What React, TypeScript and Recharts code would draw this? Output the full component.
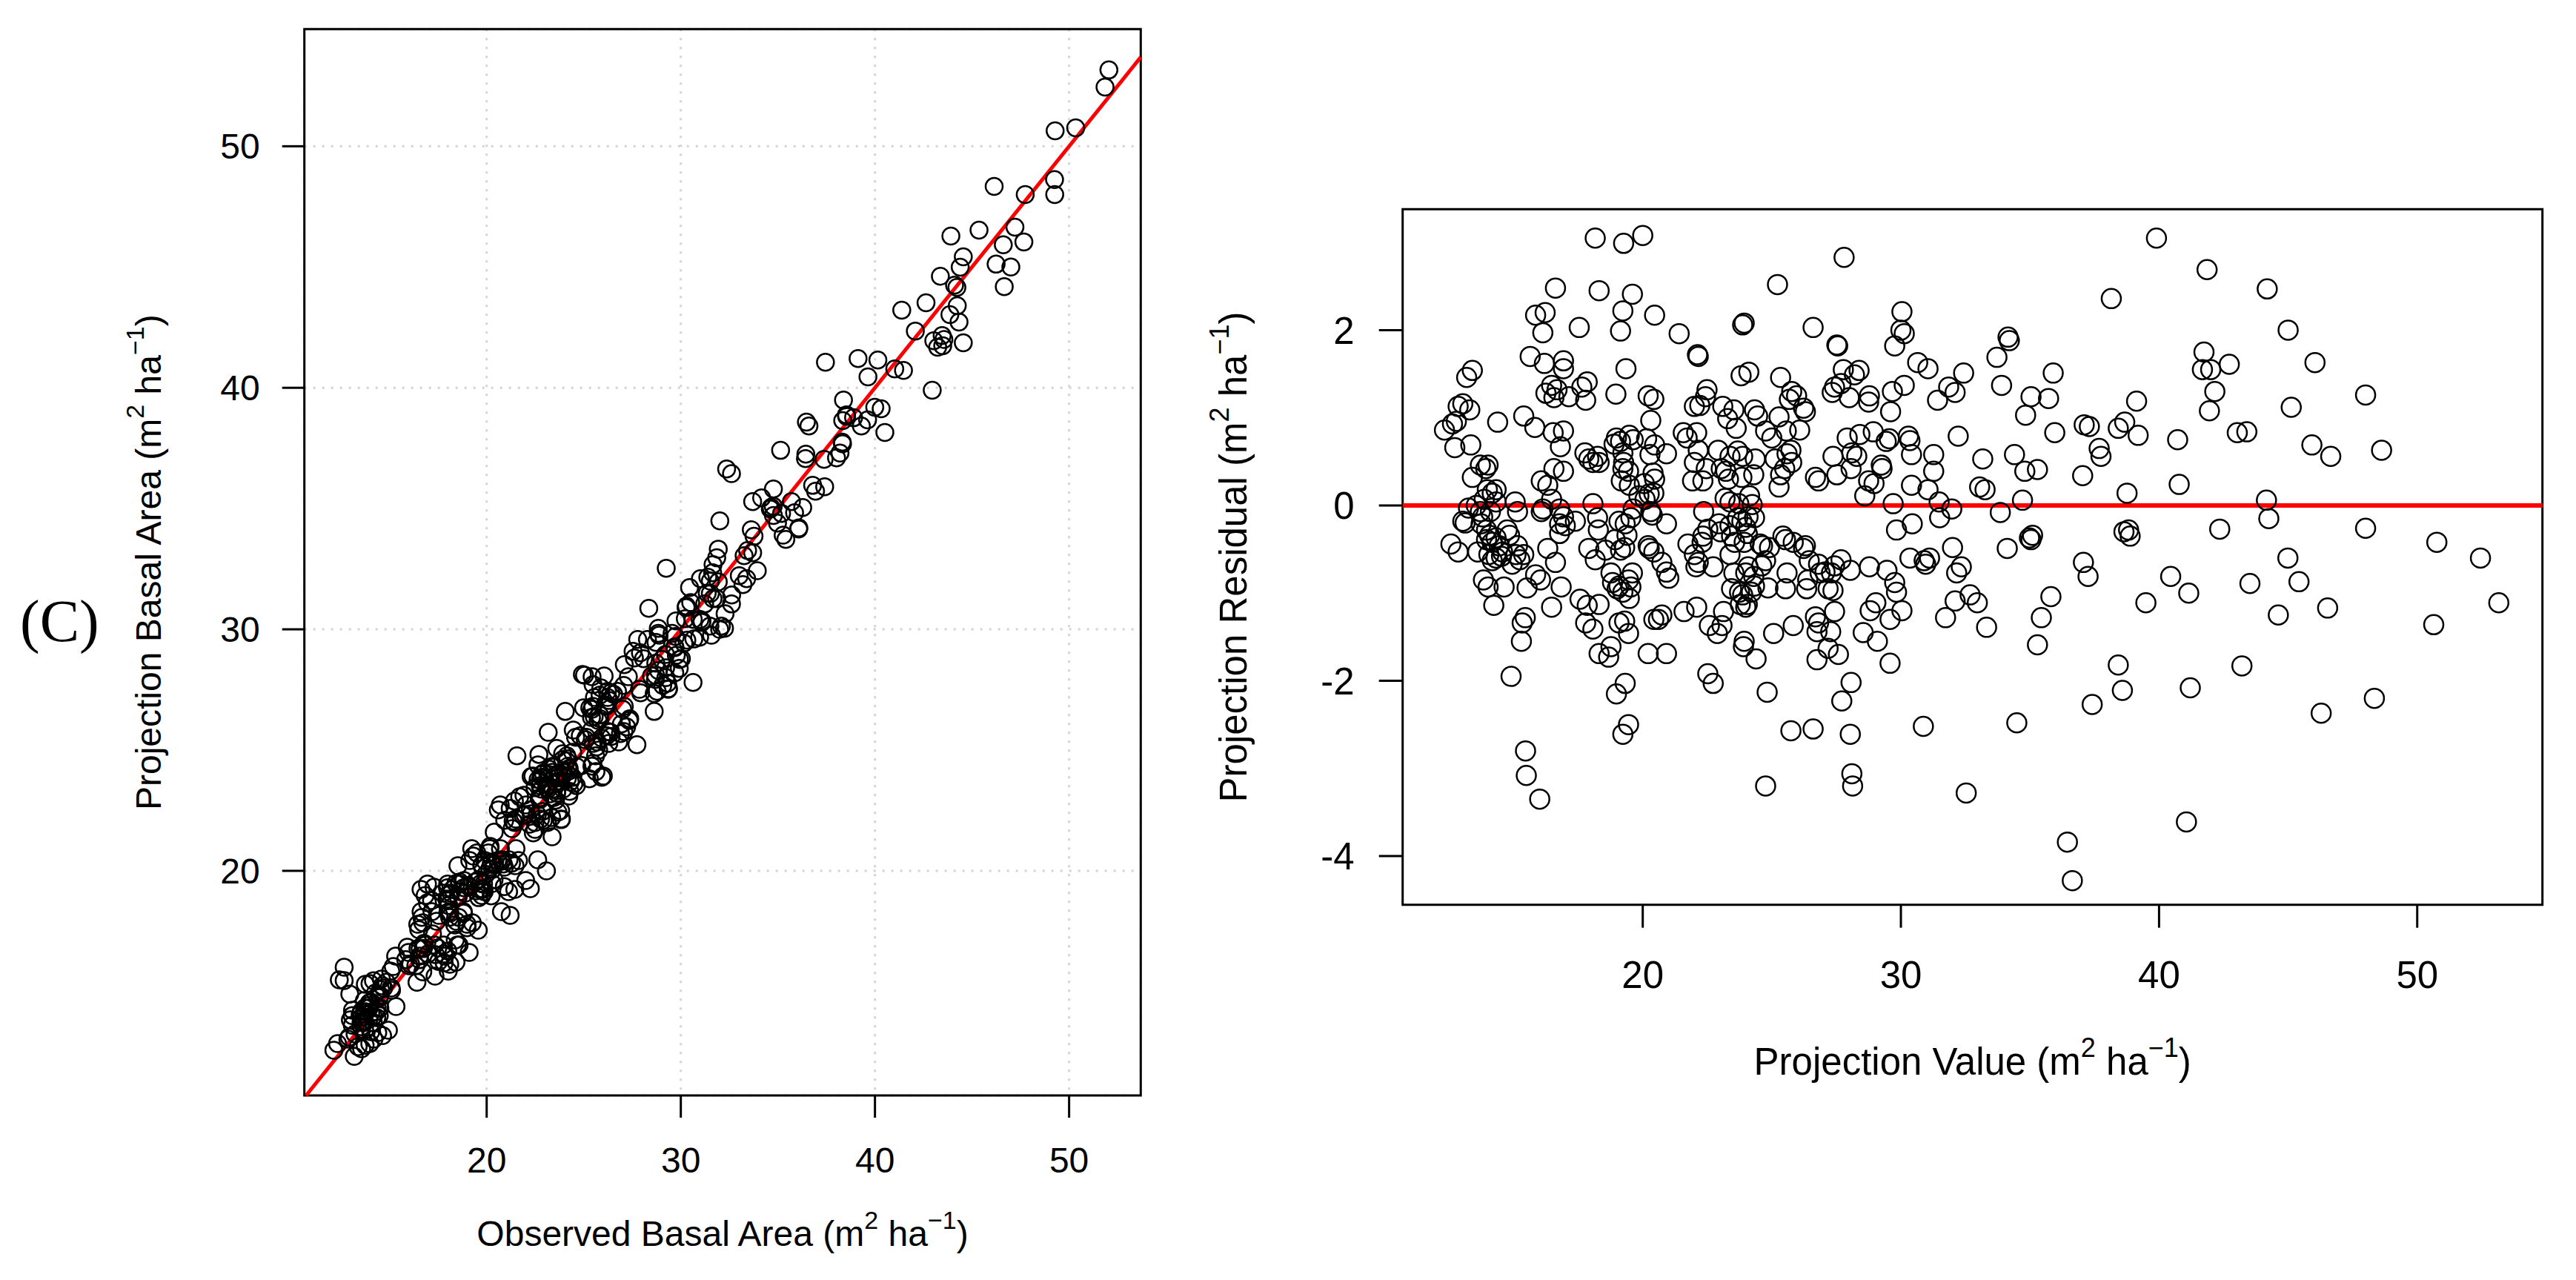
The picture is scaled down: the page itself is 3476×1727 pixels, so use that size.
import React from "react";
import {
  ScatterChart, Scatter, XAxis, YAxis, CartesianGrid,
  ReferenceLine, ReferenceArea,
} from "recharts";

const FONT = "'Liberation Sans', Arial, Helvetica, sans-serif";

// [projection value, residual].
// residual = observed - projection, so the left panel uses the same plots.
const HIGH_RESID: [number, number][] = [
  [18.16,3.05],[19.26,2.99],[20.0,3.08],[39.9,3.05],[27.8,2.83],[41.86,2.69],[25.22,2.52],[16.62,2.48],
  [18.31,2.45],[19.6,2.41],[44.19,2.47],[38.15,2.36],[15.85,2.17],[16.22,2.2],[19.23,2.22],[20.46,2.17],
  [30.04,2.21],[16.13,1.97],[17.54,2.03],[19.14,1.99],[21.41,1.96],[23.87,2.06],[23.93,2.08],[26.6,2.03],
  [30.0,2.0],[30.13,1.96],[45.0,2.0],[34.15,1.92],[34.2,1.88],[22.12,1.72],[22.15,1.7],[27.52,1.83],
  [27.55,1.82],[29.76,1.82],[41.74,1.75],[15.64,1.7],[16.93,1.65],[16.19,1.62],[16.93,1.56],[19.35,1.56],
  [30.65,1.63],[31.05,1.56],[33.72,1.69],[42.72,1.61],[46.04,1.63],[41.68,1.55],[42.0,1.55],[27.77,1.55],
  [28.38,1.54],[28.2,1.49],[32.43,1.51],[35.9,1.51],[13.4,1.54],[25.34,1.46],[23.81,1.48],[24.11,1.52],
];

const UPPER_RESID: [number, number][] = [
  [13.18,1.46],[16.47,1.37],[16.68,1.32],[17.85,1.41],[17.64,1.35],[17.79,1.2],[17.14,1.24],[16.56,1.23],
  [16.25,1.28],[18.96,1.27],[20.21,1.25],[20.43,1.21],[22.49,1.32],[22.43,1.24],[23.1,1.13],[22.0,1.13],
  [22.21,1.14],[27.34,1.29],[27.68,1.39],[27.43,1.35],[28.0,1.23],[28.78,1.25],[28.75,1.18],[29.67,1.3],
  [30.13,1.37],[25.77,1.3],[25.68,1.21],[25.96,1.25],[26.23,1.11],[26.3,1.07],[31.85,1.35],[32.1,1.29],
  [31.42,1.2],[33.9,1.37],[35.04,1.24],[35.72,1.22],[39.13,1.19],[45.12,1.12],[48.0,1.26],[42.16,1.3],
  [41.95,1.08],[12.85,1.13],[13.03,1.16],[13.3,1.09],[23.53,1.09],[24.33,1.09],[24.45,1.02],[23.29,0.99],
  [25.28,1.01],[15.39,1.02],[20.31,0.97],[29.6,1.07],[34.83,1.03],[37.1,0.92],[37.3,0.9],[38.67,0.95],
  [38.42,0.88],[14.38,0.95],[12.32,0.86],[12.63,0.93],[12.78,0.96],[15.82,0.89],[16.93,0.85],[16.53,0.83],
  [21.57,0.83],[21.72,0.77],[22.09,0.83],[23.62,0.88],[24.76,0.85],[25.0,0.77],[25.56,0.85],[26.08,0.86],
  [27.92,0.77],[28.41,0.81],[28.93,0.84],[29.43,0.73],[29.55,0.76],[30.29,0.79],[30.35,0.74],[32.22,0.79],
  [35.96,0.83],[39.19,0.8],[40.72,0.75],[43.03,0.83],[43.4,0.84],[13.34,0.69],[12.72,0.66],[16.81,0.67],
  [18.89,0.7],[18.98,0.77],[19.48,0.8],[19.63,0.75],[19.14,0.73],[20.15,0.76],[20.46,0.69],[20.92,0.59],
  [20.28,0.58],[17.76,0.6],[17.91,0.53],[18.25,0.56],[19.23,0.6],[22.15,0.63],[22.92,0.63],[23.38,0.56],
  [23.68,0.62],[23.87,0.56],[24.36,0.53],[25.13,0.53],[25.59,0.59],[25.74,0.63],[27.37,0.56],[28.29,0.56],
  [28.1,0.6],[30.41,0.58],[31.27,0.58],[33.17,0.53],[34.4,0.58],[37.68,0.65],[37.75,0.56],[45.92,0.69],
  [46.65,0.56],[48.62,0.63],
];

const NEAR_ZERO: [number, number][] = [
  [18.07,0.49],[18.31,0.49],[16.56,0.42],[16.93,0.39],[14.01,0.46],[13.92,0.42],[13.71,0.46],[13.4,0.32],
  [16.07,0.28],[19.26,0.49],[19.23,0.42],[19.45,0.39],[19.17,0.28],[19.48,0.23],[20.06,0.25],[20.46,0.3],
  [20.4,0.37],[22.0,0.49],[21.93,0.28],[22.33,0.28],[22.46,0.42],[23.04,0.42],[24.3,0.35],[23.84,0.32],
  [23.22,0.39],[23.32,0.3],[25.77,0.49],[25.5,0.42],[25.34,0.35],[25.28,0.21],[26.69,0.32],[26.81,0.28],
  [27.52,0.35],[28.07,0.42],[29.24,0.46],[29.27,0.42],[28.96,0.25],[28.75,0.28],[28.6,0.11],[31.27,0.39],
  [30.41,0.23],[31.05,0.18],[33.05,0.21],[33.26,0.18],[34.8,0.39],[35.29,0.41],[37.04,0.34],[40.78,0.24],
  [38.76,0.14],[44.16,0.06],[34.71,0.06],
  [12.57,-0.44],[13.12,-0.2],[13.03,-0.18],[13.25,-0.03],[13.55,0.0],[13.71,-0.07],[13.8,-0.13],[13.74,-0.21],
  [13.95,-0.28],[14.07,-0.34],[13.95,-0.39],[14.17,-0.42],[14.32,-0.37],[14.44,-0.46],[14.75,-0.28],[14.84,-0.34],
  [15.06,0.04],[15.15,-0.07],[14.32,0.04],[14.17,0.14],[13.98,0.18],[14.32,0.18],[13.86,0.07],[14.1,-0.07],
  [15.15,-0.46],[16.32,-0.49],[16.78,-0.32],[16.78,-0.21],[16.78,-0.04],[17.0,-0.23],[16.13,-0.04],[16.47,0.07],
  [16.32,0.23],[16.07,-0.07],[16.93,-0.13],[17.39,-0.18],[17.91,-0.49],[18.28,-0.28],[18.25,-0.14],[18.07,0.02],
  [18.93,-0.39],[19.08,-0.18],[19.32,-0.21],[19.39,-0.34],[19.3,-0.48],[19.54,-0.14],[19.63,-0.04],[19.85,0.11],
  [20.09,0.07],[20.25,0.13],[20.43,0.14],[20.31,-0.07],[20.37,-0.11],[20.21,-0.46],[20.25,-0.49],[20.92,-0.21],
  [21.75,-0.44],[22.3,-0.42],[22.33,-0.35],[22.52,-0.27],[22.36,-0.07],[23.01,-0.3],[22.95,-0.21],[23.19,0.08],
  [23.38,0.04],[23.38,-0.23],[23.44,-0.35],[23.56,-0.42],[23.84,-0.18],[23.68,-0.14],[23.99,-0.25],[24.05,-0.32],
  [23.93,-0.42],[24.08,-0.13],[23.72,0.02],[24.14,0.11],[24.24,0.01],[24.33,-0.14],[24.55,-0.44],[24.64,-0.46],
  [24.91,-0.48],[25.43,-0.35],[25.53,-0.39],[25.83,-0.42],[26.3,-0.46],[26.23,-0.49],[29.83,-0.28],[29.7,0.02],
  [30.44,-0.21],[31.5,-0.14],[31.48,0.04],[32.0,-0.48],[31.97,-0.04],[33.85,-0.08],[34.12,-0.49],[34.98,-0.37],
  [35.04,-0.39],[35.1,-0.34],[38.64,-0.3],[38.88,-0.35],[38.82,-0.28],[42.35,-0.27],[44.25,-0.15],[48.0,-0.26],
  [50.76,-0.42],
];

const LOWER_RESID: [number, number][] = [
  [12.85,-0.53],[14.57,-0.53],[14.04,-0.56],[13.61,-0.53],[14.17,-0.63],[14.32,-0.6],[14.53,-0.58],[14.63,-0.93],
  [13.83,-0.85],[14.01,-0.93],[14.23,-1.14],[15.09,-0.56],[15.24,-0.62],[14.94,-0.67],[15.39,-0.56],[15.52,-0.94],
  [15.33,-1.34],[15.45,-1.28],[16.04,-0.85],[15.85,-0.79],[16.47,-1.16],[16.84,-0.93],[16.62,-0.65],[17.57,-1.07],
  [17.85,-1.14],[17.79,-1.34],[18.07,-1.41],[18.31,-1.13],[18.16,-0.62],[18.56,-0.51],[18.77,-0.77],[18.83,-0.88],
  [19.01,-0.95],[19.23,-0.99],[19.08,-0.92],[19.45,-0.85],[19.6,-0.77],[19.54,-0.93],[19.48,-1.06],[19.08,-1.34],
  [19.3,-1.32],[19.45,-1.46],[19.14,-0.51],[20.43,-0.53],[20.74,-0.65],[20.92,-0.76],[21.01,-0.83],[20.43,-1.3],
  [20.61,-1.3],[20.74,-1.25],[21.6,-1.21],[22.09,-1.16],[22.0,-0.56],[22.15,-0.65],[22.06,-0.7],[22.58,-1.37],
  [22.89,-1.46],[23.07,-1.37],[23.13,-1.21],[22.73,-0.7],[23.38,-0.56],[23.53,-0.77],[23.44,-0.95],[23.75,-0.99],
  [23.87,-1.02],[23.78,-1.13],[23.99,-1.16],[24.85,-0.94],[24.76,-0.63],[24.61,-0.69],[24.08,-0.7],[23.99,-0.77],
  [24.3,-0.81],[24.33,-0.92],[24.21,-0.99],[24.05,-1.13],[25.07,-1.46],[25.59,-0.77],[25.53,-0.95],[25.83,-1.37],
  [26.35,-0.95],[26.39,-0.85],[26.45,-0.63],[26.69,-1.27],[26.81,-1.34],[26.75,-1.44],[26.81,-0.67],[26.87,-0.77],
  [27.06,-0.76],[27.18,-0.95],[27.37,-0.97],[27.31,-0.77],[27.43,-0.69],[27.68,-0.62],[27.43,-1.21],[27.28,-1.44],
  [28.04,-0.74],[28.54,-1.45],[28.81,-1.2],[29.03,-1.11],[28.78,-0.7],[29.58,-1.3],[30.04,-1.2],[29.76,-0.88],
  [29.83,-0.99],[29.46,-0.74],[30.35,-0.6],[30.9,-0.63],[30.96,-0.67],[31.11,-0.6],[31.73,-1.28],[32.1,-1.09],
  [32.16,-0.77],[32.34,-0.7],[32.68,-1.02],[32.96,-1.11],[33.32,-1.39],[35.44,-1.28],[35.81,-1.04],[37.07,-0.65],
  [37.25,-0.81],[39.49,-1.11],[40.45,-0.81],[41.15,-1.0],[43.52,-0.89],[44.62,-1.25],[44.99,-0.6],[45.42,-0.87],
  [46.53,-1.17],[50.64,-1.36],[52.45,-0.6],[53.16,-1.11],
];

const LOW_RESID: [number, number][] = [
  [15.3,-1.55],[14.9,-1.95],[18.31,-1.69],[18.68,-1.73],[18.77,-1.61],[18.98,-2.15],[19.32,-2.03],[19.23,-2.61],
  [19.45,-2.5],[20.21,-1.69],[20.92,-1.69],[22.52,-1.92],[22.73,-2.03],[23.93,-1.55],[23.9,-1.61],[24.39,-1.75],
  [24.82,-2.13],[24.76,-3.2],[25.74,-2.57],[26.6,-2.55],[26.75,-1.76],[27.18,-1.63],[27.58,-1.7],[27.71,-2.23],
  [28.07,-2.02],[28.04,-2.61],[28.1,-3.06],[28.13,-3.2],[29.09,-1.55],[29.58,-1.8],[30.87,-2.52],[32.53,-3.28],
  [34.49,-2.48],[35.29,-1.59],[36.45,-3.84],[36.64,-4.28],[37.41,-2.27],[38.42,-1.82],[38.58,-2.11],[41.06,-3.61],
  [41.21,-2.08],[43.21,-1.83],[46.28,-2.37],[48.34,-2.2],[15.46,-2.8],[15.49,-3.08],[16.01,-3.35],
];

const BASAL_TICKS = [20, 30, 40, 50];
const RESID_TICKS = [-4, -2, 0, 2];
const OBS_DOMAIN: [number, number] = [10.61, 53.69];
const PROJ_DOMAIN: [number, number] = [10.7, 54.85];
const RESID_DOMAIN: [number, number] = [-4.555, 3.379];

const ALL = [...HIGH_RESID, ...UPPER_RESID, ...NEAR_ZERO, ...LOWER_RESID, ...LOW_RESID];
const residData = ALL.map(([p, r]) => ({ proj: p, resid: r }));
const basalData = ALL.map(([p, r]) => ({ obs: Math.round((p + r) * 100) / 100, proj: p }));

const ringShape = (r: number) => (props: any) => (
  <circle cx={props.cx} cy={props.cy} r={r} fill="none" stroke="#000" strokeWidth={2.5} />
);

function UnitTitle({ x, y, text, size, vertical }: { x: number; y: number; text: string; size: number; vertical?: boolean }) {
  const sup = Math.round(size * 0.7);
  const lift = Math.round(size * 0.47);
  return (
    <text
      x={x} y={y} textAnchor="middle" fill="#000" fontFamily={FONT} fontSize={size}
      transform={vertical ? `rotate(-90 ${x} ${y})` : undefined}
    >
      {text} (m<tspan dy={-lift} fontSize={sup}>2</tspan>
      <tspan dy={lift}> ha</tspan>
      <tspan dy={-lift} fontSize={sup}>{"\u22121"}</tspan>
      <tspan dy={lift}>)</tspan>
    </text>
  );
}

export default function App() {
  const lo = Math.max(OBS_DOMAIN[0], PROJ_DOMAIN[0]);
  const hi = Math.min(OBS_DOMAIN[1], PROJ_DOMAIN[1]);
  return (
    <div style={{ position: "absolute", left: 0, top: 0, width: 3476, height: 1727, background: "#fff" }}>
      <svg width={200} height={1000} style={{ position: "absolute", left: 0, top: 0 }}>
        <text x={27} y={865} fontFamily="'Liberation Serif', 'Times New Roman', serif" fontSize={80} fill="#000">(C)</text>
      </svg>

      {/* left: projected vs observed */}
      <div style={{ position: "absolute", left: 0, top: 0 }}>
        <ScatterChart width={1600} height={1727} margin={{ top: 39.3, right: 60.7, bottom: 0, left: 0 }}>
          <CartesianGrid stroke="#d3d3d3" strokeWidth={3} strokeDasharray="3 9" />
          <XAxis
            type="number" dataKey="obs" domain={OBS_DOMAIN} ticks={BASAL_TICKS} allowDataOverflow interval={0}
            height={249} axisLine={false} tickSize={30} tickMargin={40}
            tickLine={{ stroke: "#000", strokeWidth: 3 }}
            tick={{ fill: "#000", fontSize: 48, fontFamily: FONT }}
            label={{ content: () => <UnitTitle x={975} y={1681} size={48} text="Observed Basal Area" /> }}
          />
          <YAxis
            type="number" dataKey="proj" domain={PROJ_DOMAIN} ticks={BASAL_TICKS} allowDataOverflow interval={0}
            width={410.7} axisLine={false} tickSize={30} tickMargin={30}
            tickLine={{ stroke: "#000", strokeWidth: 3 }}
            tick={{ fill: "#000", fontSize: 48, fontFamily: FONT }}
            label={{ content: () => <UnitTitle x={217} y={758.7} size={48} vertical text="Projection Basal Area" /> }}
          />
          <Scatter data={basalData} shape={ringShape(11.5)} isAnimationActive={false} />
          <ReferenceLine segment={[{ x: lo, y: lo }, { x: hi, y: hi }]} stroke="#ff0000" strokeWidth={5} ifOverflow="visible" />
          <ReferenceArea
            x1={OBS_DOMAIN[0]} x2={OBS_DOMAIN[1]} y1={PROJ_DOMAIN[0]} y2={PROJ_DOMAIN[1]}
            fill="none" stroke="#000" strokeWidth={3} ifOverflow="visible"
          />
        </ScatterChart>
      </div>

      {/* right: residual vs projection */}
      <div style={{ position: "absolute", left: 1560, top: 0 }}>
        <ScatterChart width={1916} height={1727} margin={{ top: 282.3, right: 45.3, bottom: 0, left: 0 }}>
          <XAxis
            type="number" dataKey="proj" domain={PROJ_DOMAIN} ticks={BASAL_TICKS} allowDataOverflow interval={0}
            height={506.3} axisLine={false} tickSize={31} tickMargin={45}
            tickLine={{ stroke: "#000", strokeWidth: 3 }}
            tick={{ fill: "#000", fontSize: 51, fontFamily: FONT }}
            label={{ content: () => <UnitTitle x={1101.7} y={1450} size={51} text="Projection Value" /> }}
          />
          <YAxis
            type="number" dataKey="resid" domain={RESID_DOMAIN} ticks={RESID_TICKS} allowDataOverflow interval={0}
            width={332.7} axisLine={false} tickSize={32} tickMargin={33}
            tickLine={{ stroke: "#000", strokeWidth: 3 }}
            tick={{ fill: "#000", fontSize: 51, fontFamily: FONT }}
            label={{ content: () => <UnitTitle x={122} y={751.5} size={51} vertical text="Projection Residual" /> }}
          />
          <Scatter data={residData} shape={ringShape(13)} isAnimationActive={false} />
          <ReferenceLine y={0} stroke="#ff0000" strokeWidth={6} ifOverflow="visible" />
          <ReferenceArea
            x1={PROJ_DOMAIN[0]} x2={PROJ_DOMAIN[1]} y1={RESID_DOMAIN[0]} y2={RESID_DOMAIN[1]}
            fill="none" stroke="#000" strokeWidth={3} ifOverflow="visible"
          />
        </ScatterChart>
      </div>
    </div>
  );
}
